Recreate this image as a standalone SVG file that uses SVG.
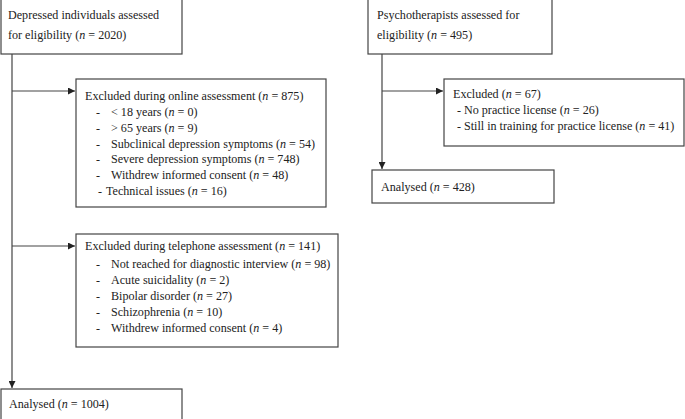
<svg xmlns="http://www.w3.org/2000/svg" width="685" height="419" viewBox="0 0 685 419">
<defs>
<marker id="arr" viewBox="0 0 10 10" refX="10" refY="5" markerWidth="7" markerHeight="7" markerUnits="userSpaceOnUse" orient="auto">
<path d="M0,0 L10,5 L0,10 z" fill="#222"/>
</marker>
<style>
text{font-family:"Liberation Serif","Times New Roman",serif;font-size:12.1px;fill:#222}
.box{fill:#fff;stroke:#444;stroke-width:1.2}
.ln{fill:none;stroke:#444;stroke-width:1.2}
.i{font-style:italic}
</style>
</defs>
<rect width="685" height="419" fill="#fff"/>
<g id="connectors">
<line class="ln" x1="12" y1="54" x2="12" y2="388" marker-end="url(#arr)"/>
<line class="ln" x1="12" y1="91" x2="75" y2="91" marker-end="url(#arr)"/>
<line class="ln" x1="12" y1="246" x2="75" y2="246" marker-end="url(#arr)"/>
<line class="ln" x1="382" y1="54" x2="382" y2="169" marker-end="url(#arr)"/>
<line class="ln" x1="382" y1="91" x2="443" y2="91" marker-end="url(#arr)"/>
</g>
<g id="depressed">
<rect class="box" x="1" y="-1" width="181" height="55"/>
<text x="8" y="19">Depressed individuals assessed</text>
<text x="8" y="39">for eligibility (<tspan class="i">n</tspan> = 2020)</text>
</g>
<g id="online">
<rect class="box" x="76" y="79" width="250" height="128"/>
<text x="85" y="100">Excluded during online assessment (<tspan class="i">n</tspan> = 875)</text>
<text x="96" y="116">-</text><text x="111" y="116">&lt; 18 years (<tspan class="i">n</tspan> = 0)</text>
<text x="96" y="132">-</text><text x="111" y="132">&gt; 65 years (<tspan class="i">n</tspan> = 9)</text>
<text x="96" y="147.5">-</text><text x="111" y="147.5">Subclinical depression symptoms (<tspan class="i">n</tspan> = 54)</text>
<text x="96" y="163">-</text><text x="111" y="163">Severe depression symptoms (<tspan class="i">n</tspan> = 748)</text>
<text x="96" y="179">-</text><text x="111" y="179">Withdrew informed consent (<tspan class="i">n</tspan> = 48)</text>
<text x="98" y="195">-</text><text x="106" y="195">Technical issues (<tspan class="i">n</tspan> = 16)</text>
</g>
<g id="telephone">
<rect class="box" x="76" y="234" width="262" height="113"/>
<text x="85" y="250">Excluded during telephone assessment (<tspan class="i">n</tspan> = 141)</text>
<text x="96" y="268">-</text><text x="111" y="268">Not reached for diagnostic interview (<tspan class="i">n</tspan> = 98)</text>
<text x="96" y="284">-</text><text x="111" y="284">Acute suicidality (<tspan class="i">n</tspan> = 2)</text>
<text x="96" y="300">-</text><text x="111" y="300">Bipolar disorder (<tspan class="i">n</tspan> = 27)</text>
<text x="96" y="316">-</text><text x="111" y="316">Schizophrenia (<tspan class="i">n</tspan> = 10)</text>
<text x="96" y="332">-</text><text x="111" y="332">Withdrew informed consent (<tspan class="i">n</tspan> = 4)</text>
</g>
<g id="analysed1">
<rect class="box" x="1" y="389" width="181" height="31"/>
<text x="9" y="408">Analysed (<tspan class="i">n</tspan> = 1004)</text>
</g>
<g id="psychotherapists">
<rect class="box" x="368" y="-1" width="184" height="55"/>
<text x="377" y="19">Psychotherapists assessed for</text>
<text x="377" y="39">eligibility (<tspan class="i">n</tspan> = 495)</text>
</g>
<g id="excluded2">
<rect class="box" x="444" y="79" width="240" height="67"/>
<text x="453" y="98">Excluded (<tspan class="i">n</tspan> = 67)</text>
<text x="457" y="114">-</text><text x="464" y="114">No practice license (<tspan class="i">n</tspan> = 26)</text>
<text x="457" y="130">-</text><text x="464" y="130">Still in training for practice license (<tspan class="i">n</tspan> = 41)</text>
</g>
<g id="analysed2">
<rect class="box" x="372" y="170" width="182" height="33"/>
<text x="381" y="191">Analysed (<tspan class="i">n</tspan> = 428)</text>
</g>
</svg>
